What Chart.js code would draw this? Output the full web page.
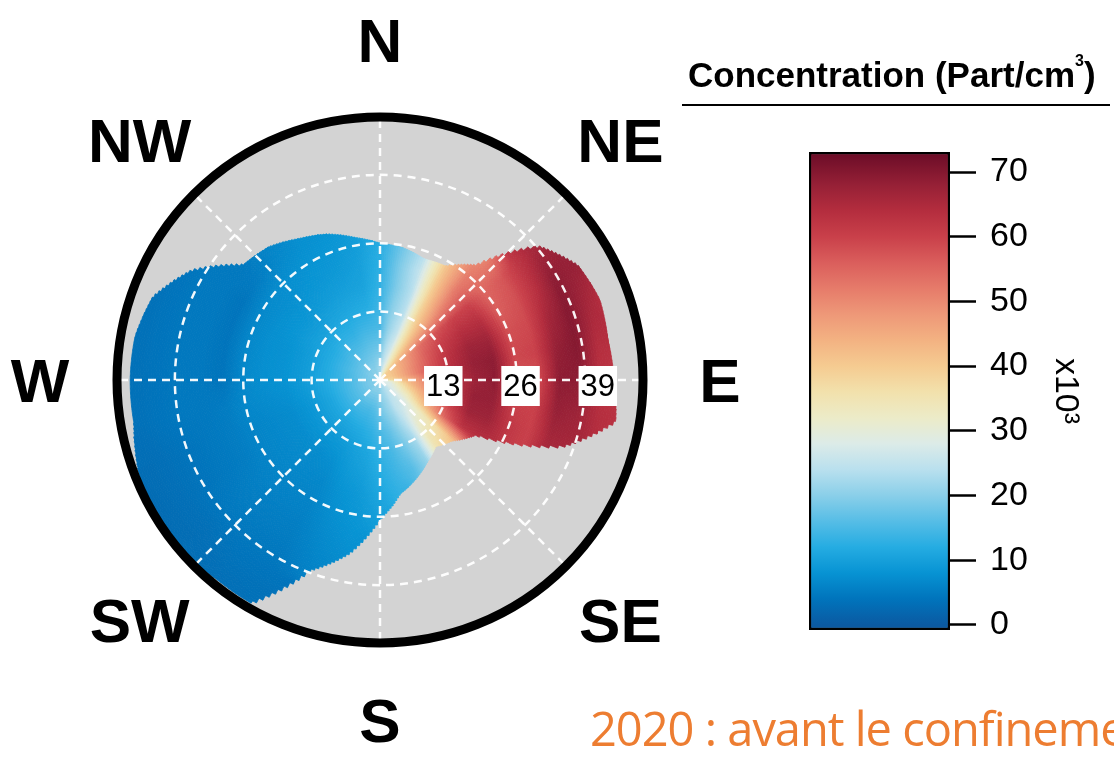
<!DOCTYPE html>
<html>
<head>
<meta charset="utf-8">
<script src="https://cdn.jsdelivr.net/npm/chart.js@4.4.1/dist/chart.umd.min.js"></script>
<style>
html, body { margin: 0; padding: 0; width: 1114px; height: 758px; overflow: hidden; background: #fff; }
#polar { position: absolute; left: 0; top: 0; }
#scale { position: absolute; left: 809px; top: 117px; }
#legendTitle { position: absolute; left: 688px; top: 57px; font: bold 35px "Liberation Sans", Arial, sans-serif; line-height: 1; color: #000; white-space: nowrap; }
#legendTitle sup { font-size: 16px; vertical-align: baseline; position: relative; top: -21px; }
#legendRule { position: absolute; left: 682px; top: 104px; width: 428px; height: 2px; background: #000; }
#caption { position: absolute; left: 590px; top: 705px; font: 47px "Open Sans", sans-serif; letter-spacing: -1px; line-height: 1; color: #ED7D31; white-space: nowrap; }
</style>
</head>
<body>
<canvas id="polar" width="1114" height="758"></canvas>
<div id="legendTitle">Concentration (Part/cm<sup>3</sup>)</div>
<div id="legendRule"></div>
<canvas id="scale" width="305" height="548"></canvas>
<div id="caption">2020 : avant le confinement</div>
<script>
// compass + wind speed axis
var compassLabels = ['N', 'NE', 'E', 'SE', 'S', 'SW', 'W', 'NW'];
var speedTicks = [0, 13, 26, 39];
var speedMax = 50;

// surface grid: direction bin centres (deg) and wind speed bin edges
var windDirs = [0, 10, 20, 30, 40, 50, 60, 70, 80, 90, 100, 110, 120, 130, 140, 150, 160, 170,
                180, 190, 200, 210, 220, 230, 240, 250, 260, 270, 280, 290, 300, 310, 320, 330, 340, 350];
var speedEdges = [0, 4, 8, 12, 16, 20, 24, 28, 32, 36, 40, 44, 48, 52];
// furthest wind speed that has data, per direction
var dataExtent = [26, 25.5, 24.5, 25, 28.5, 39.5, 43.5, 44.5, 44, 44.5, 45.5, 37, 21, 18, 16.5, 18, 20, 22,
                  26.5, 33.5, 38.5, 49, 49, 50, 50, 49, 47.5, 47.5, 47.3, 46, 41.5, 34, 33, 31, 29.5, 27.5];
// concentration (x10^3 part/cm3), one row per direction, one value per speed bin
var concRows = [
  [22, 18, 15, 14, 13, 12.5, 12],
  [25, 23, 21, 20, 19, 19, 18],
  [29, 27, 25, 24, 24, 25, 24],
  [33, 35, 36, 38, 39, 40, 41],
  [38, 42, 45, 47, 50, 52, 52, 50],
  [40, 47, 54, 58, 60, 60, 55, 57, 62, 66],
  [40, 48, 56, 61, 64, 64, 56, 58, 63, 69, 68],
  [40, 49, 57, 63, 67, 67, 58, 59, 66, 70, 66, 63],
  [39, 49, 58, 64, 68, 69, 59, 60, 68, 70, 64],
  [38, 45, 54, 63, 67, 69, 58, 58, 69, 69, 63, 62],
  [30, 42, 52, 62, 68, 68, 60, 60, 68, 67, 64, 63],
  [28, 38, 48, 60, 67, 67, 62, 60, 66, 66],
  [28, 33, 43, 55, 63, 64],
  [27, 29, 33, 37, 42],
  [25, 26, 30, 34, 36],
  [24, 25, 24, 22, 21],
  [23, 22, 20, 18, 16],
  [22, 20, 17, 15, 14, 13],
  [21, 18, 15, 13, 12, 11, 10],
  [20, 16, 13, 11, 10, 9, 8.5, 8, 7.5],
  [20, 15, 12, 10, 9, 8, 7.5, 7, 6.5, 6],
  [20, 15, 11.5, 9, 7.5, 6.5, 6, 5.5, 5, 4.5, 4, 3.5, 3.5],
  [20, 15, 11, 8.5, 7, 6.5, 6, 5.5, 5, 4.5, 4, 3.5, 3],
  [19, 15, 11, 8.5, 7, 6.5, 6, 5.5, 5, 4.5, 3.5, 3, 3],
  [19, 15, 11, 8.5, 7, 6.5, 6, 5, 4.5, 4, 3.5, 3, 2.5],
  [19, 15, 11, 8.5, 7, 6.5, 6, 5, 4.5, 4, 3.5, 3, 3],
  [19, 15, 11.5, 9, 7.5, 7, 6.5, 5, 4.5, 4.5, 4, 3.5],
  [19, 15, 12, 9.5, 8, 7.5, 6.5, 4, 4.5, 4.5, 4, 3.5],
  [19, 15, 12, 9.5, 8, 7.5, 6.5, 4, 4.5, 4.5, 4, 3.5],
  [19, 15.5, 12, 9.5, 8, 7.5, 6.5, 4, 4.5, 4.5, 4, 3.5],
  [19.5, 15.5, 12, 10, 8.5, 7.5, 6.5, 4, 4.5, 4.5, 4],
  [19.5, 16, 12.5, 10, 8.5, 7.5, 7, 5, 4.5],
  [20, 16, 13, 10.5, 9, 8, 7.5, 6.5, 6],
  [20, 16.5, 13, 11, 9.5, 8.5, 8, 7.5],
  [20, 17, 14, 11.5, 10, 9, 8.5, 8],
  [21, 17.5, 14.5, 12, 10.5, 10, 9.5]
];

// colour key
var colourTicks = [0, 10, 20, 30, 40, 50, 60, 70];
var colourRange = [-0.8, 73.1];
var colourStopValues = [0, 4, 8, 12, 16, 20, 24, 28, 32, 36, 40, 44, 48, 52, 56, 60, 64, 68, 72, 73];
var colourStopHex = ['#0B5AA2', '#0074BC', '#0793D3', '#25ACE2', '#56BDE6', '#8ACFE9', '#B9E0EE',
                     '#DCEBE8', '#ECEBC8', '#F2E1AC', '#F5CB91', '#F3B282', '#EE9878', '#E67B6A',
                     '#DA5E5C', '#C9404A', '#B42D3E', '#962036', '#73102A', '#6B0A25'];

var FONT = '"Liberation Sans", Arial, sans-serif';

function hexToRgb(h) {
	var n = parseInt(h.slice(1), 16);
	return [n >> 16, (n >> 8) & 255, n & 255];
}
var stopRgb = colourStopHex.map(hexToRgb);

function colourFor(v) {
	if (v <= colourStopValues[0]) return colourStopHex[0];
	for (var i = 1; i < colourStopValues.length; i++) {
		if (v <= colourStopValues[i]) {
			var t = (v - colourStopValues[i - 1]) / (colourStopValues[i] - colourStopValues[i - 1]);
			var a = stopRgb[i - 1], b = stopRgb[i];
			return 'rgb(' + a.map(function (c, k) { return Math.round(c + (b[k] - c) * t); }).join(',') + ')';
		}
	}
	return colourStopHex[colourStopHex.length - 1];
}

function toRad(deg) { return deg * Math.PI / 180; }

var dirStep = windDirs[1] - windDirs[0];
var speedStep = speedEdges[1] - speedEdges[0];

function rowValue(i, j) {
	var n = windDirs.length;
	var row = concRows[((i % n) + n) % n];
	return (j >= 0 && j < row.length && row[j] != null) ? row[j] : null;
}

// shade between neighbouring bin centres so the surface reads smooth
function shadeAt(deg, spd) {
	var fi = deg / dirStep, i0 = Math.floor(fi), t = fi - i0;
	var fj = Math.max(0, spd / speedStep - 0.5), j0 = Math.floor(fj), u = fj - j0;
	var corners = [[i0, j0, (1 - t) * (1 - u)], [i0 + 1, j0, t * (1 - u)],
	               [i0, j0 + 1, (1 - t) * u], [i0 + 1, j0 + 1, t * u]];
	var sum = 0, wsum = 0;
	corners.forEach(function (c) {
		var v = rowValue(c[0], c[1]);
		if (v != null && c[2] > 0) { sum += v * c[2]; wsum += c[2]; }
	});
	if (wsum > 0) return sum / wsum;
	var row = concRows[Math.round(fi) % windDirs.length];
	return row[Math.min(Math.floor(spd / speedStep), row.length - 1)];
}

function extentAt(deg) {
	var n = windDirs.length;
	var fi = deg / dirStep, i0 = Math.floor(fi), t = fi - i0;
	return dataExtent[i0 % n] * (1 - t) + dataExtent[(i0 + 1) % n] * t;
}

var surfacePlugin = {
	id: 'surface',
	beforeDatasetsDraw: function (chart) {
		var r = chart.scales.r, ctx = chart.ctx;
		var cx = r.xCenter, cy = r.yCenter;
		var subDir = 1, subSpd = 0.5;
		ctx.save();
		ctx.fillStyle = '#d3d3d3';
		ctx.beginPath();
		ctx.arc(cx, cy, r.getDistanceFromCenterForValue(speedMax), 0, Math.PI * 2);
		ctx.fill();
		ctx.lineWidth = 0.8;
		for (var d = 0; d < 360; d += subDir) {
			var mid = d + subDir / 2;
			var ext = extentAt(mid);
			// compass degrees (clockwise from north) -> canvas angle
			var a0 = toRad(d - 90), a1 = toRad(d + subDir - 90);
			for (var s = 0; s < ext; s += subSpd) {
				var s1 = Math.min(s + subSpd, ext);
				var v = shadeAt(mid, (s + s1) / 2);
				if (v == null) continue;
				var r0 = r.getDistanceFromCenterForValue(s);
				var r1 = r.getDistanceFromCenterForValue(s1);
				ctx.fillStyle = ctx.strokeStyle = colourFor(v);
				ctx.beginPath();
				ctx.arc(cx, cy, r1, a0, a1);
				ctx.arc(cx, cy, r0, a1, a0, true);
				ctx.closePath();
				ctx.fill();
				ctx.stroke();
			}
		}
		ctx.restore();
	},
	afterDraw: function (chart) {
		var r = chart.scales.r, ctx = chart.ctx;
		ctx.save();
		// outer frame
		ctx.strokeStyle = '#000';
		ctx.lineWidth = 9;
		ctx.beginPath();
		ctx.arc(r.xCenter, r.yCenter, r.getDistanceFromCenterForValue(speedMax), 0, Math.PI * 2);
		ctx.stroke();
		// speed labels along the east spoke
		ctx.font = '31px ' + FONT;
		ctx.textAlign = 'center';
		ctx.textBaseline = 'middle';
		speedTicks.slice(1).forEach(function (v) {
			var p = r.getPointPosition(2, r.getDistanceFromCenterForValue(v) * 1.13 - 14);
			var label = String(v);
			var w = ctx.measureText(label).width + 4;
			ctx.fillStyle = '#fff';
			ctx.fillRect(p.x - w / 2, p.y - 14, w, 40);
			ctx.fillStyle = '#000';
			ctx.fillText(label, p.x, p.y + 7);
		});
		// compass labels
		ctx.font = 'bold 62px ' + FONT;
		ctx.textBaseline = 'alphabetic';
		compassLabels.forEach(function (lab, i) {
			var p = r.getPointPosition(i, r.drawingArea + 77);
			ctx.fillText(lab, p.x, p.y + 22);
		});
		ctx.restore();
	}
};

new Chart(document.getElementById('polar'), {
	type: 'radar',
	data: { labels: compassLabels, datasets: [] },
	options: {
		responsive: false,
		animation: false,
		layout: { padding: { left: 117, top: 117, right: 471, bottom: 115 } },
		plugins: { legend: { display: false }, tooltip: { enabled: false } },
		scales: {
			r: {
				min: 0,
				max: speedMax,
				startAngle: 0,
				afterBuildTicks: function (s) { s.ticks = speedTicks.map(function (v) { return { value: v }; }); },
				ticks: { display: false, z: 1 },
				pointLabels: { display: false },
				grid: { circular: true, color: 'rgba(255,255,255,0.95)', lineWidth: 2.5, z: 1, borderDash: [8, 6] },
				border: { dash: [8, 6] },
				angleLines: { color: 'rgba(255,255,255,0.95)', lineWidth: 2.5, borderDash: [8, 6] }
			}
		}
	},
	plugins: [surfacePlugin]
});

function keyGradient(c) {
	var chart = c.chart;
	if (!chart.chartArea) return colourStopHex[0];
	var y = chart.scales.y;
	var first = colourStopValues[0], last = colourStopValues[colourStopValues.length - 1];
	var g = chart.ctx.createLinearGradient(0, y.getPixelForValue(first), 0, y.getPixelForValue(last));
	colourStopValues.forEach(function (v, i) {
		g.addColorStop((v - first) / (last - first), colourStopHex[i]);
	});
	return g;
}

new Chart(document.getElementById('scale'), {
	type: 'bar',
	data: {
		labels: ['conc'],
		datasets: [{
			data: [colourRange],
			backgroundColor: keyGradient,
			borderColor: '#000',
			borderWidth: 2.5,
			borderSkipped: false,
			barPercentage: 1,
			categoryPercentage: 1
		}]
	},
	options: {
		responsive: false,
		animation: false,
		layout: { padding: { top: 35, bottom: 35, left: 0, right: 0 } },
		plugins: { legend: { display: false }, tooltip: { enabled: false } },
		scales: {
			x: { display: false },
			y: {
				position: 'right',
				min: colourRange[0],
				max: colourRange[1],
				afterBuildTicks: function (s) { s.ticks = colourTicks.map(function (v) { return { value: v }; }); },
				afterFit: function (s) { s.width = 164; },
				grid: { drawOnChartArea: false, drawTicks: true, tickLength: 26, tickWidth: 2.5, tickColor: '#000' },
				border: { display: false },
				ticks: { color: '#000', padding: 14, font: { family: FONT, size: 34 } },
				title: { display: true, text: 'x10\u00b3', color: '#000', font: { family: FONT, size: 34 }, padding: { top: 28, bottom: 0 } }
			}
		}
	}
});
</script>
</body>
</html>
